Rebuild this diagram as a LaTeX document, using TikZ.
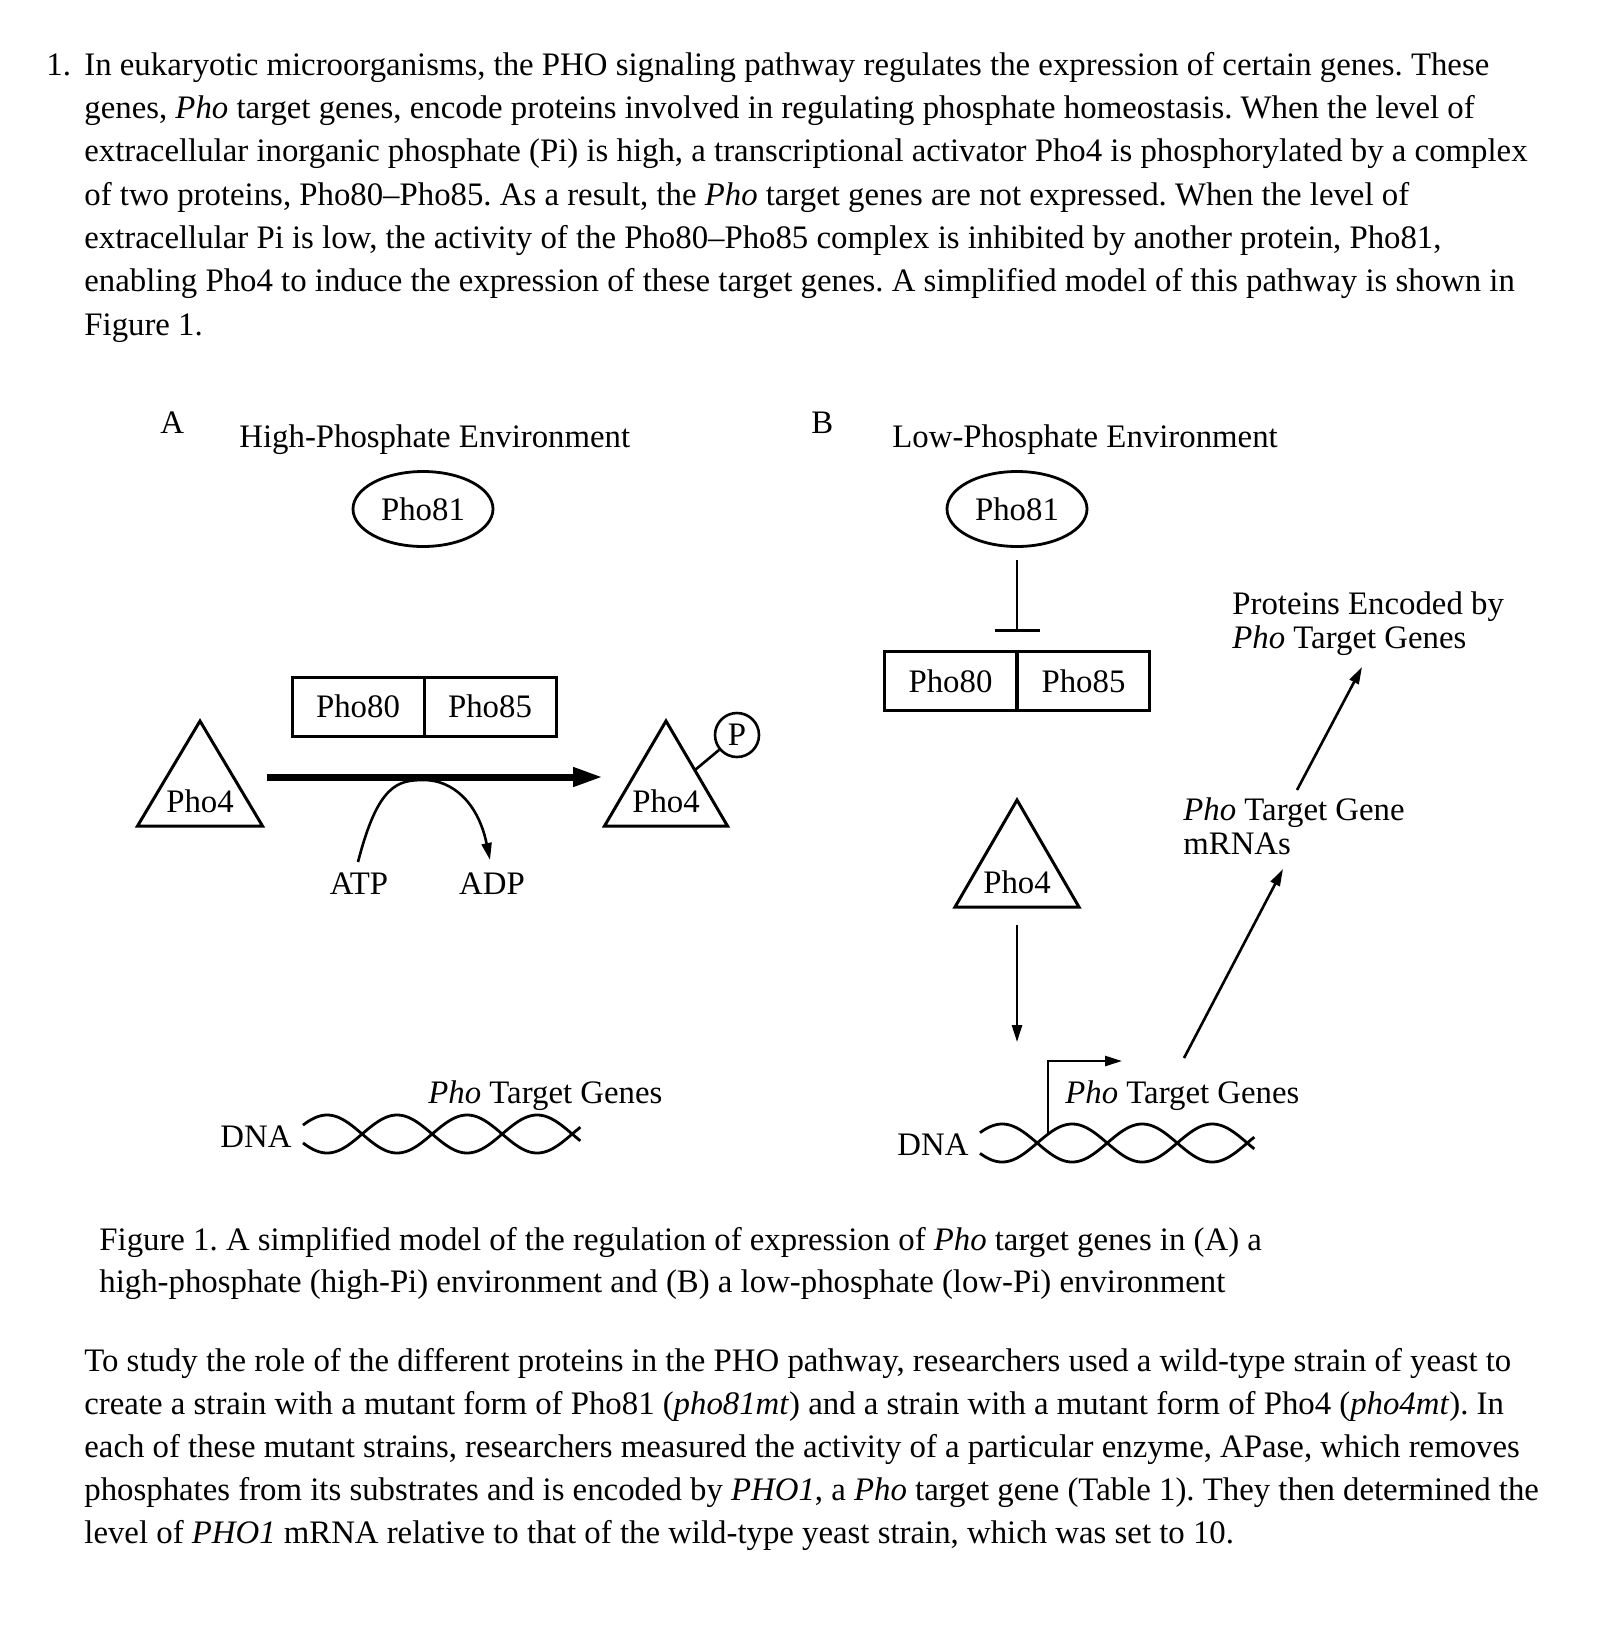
\documentclass[tikz,border=0pt]{standalone}
\usepackage{fontspec}
\setmainfont{Liberation Serif}
\usetikzlibrary{arrows.meta,shapes.geometric}
\newcommand{\figfont}{\fontsize{16.4pt}{19pt}\selectfont}
\frenchspacing
\begin{document}
\begin{tikzpicture}[x=0.5pt,y=-0.5pt,
  txt/.style={font=\figfont, inner sep=0pt, anchor=base west},
  lbl/.style={font=\figfont, inner sep=0pt, anchor=base},
  shp/.style={line width=1.5pt},
  cell/.style={draw, line width=1.5pt, minimum width=66pt, minimum height=29.5pt, inner sep=0pt, font=\figfont},
  oval/.style={draw, ellipse, line width=1.4pt, minimum width=70pt, minimum height=37.5pt, inner sep=0pt, font=\figfont},
  pcirc/.style={draw, circle, line width=1.3pt, minimum size=22pt, inner sep=0pt, font=\figfont},
  thinarrow/.style={line width=1.3pt, -{Triangle[length=8.5pt,width=5pt]}},
  thickarrow/.style={line width=3.5pt, -{Triangle[length=15pt,width=9pt]}},
  inhib/.style={line width=1.3pt, -{Bar[width=22.5pt,line width=1.3pt]}},
  dna/.style={line width=1.4pt}
]
\useasboundingbox (0,0) rectangle (1615,1638);

% ---------- paragraph 1 ----------
\node[txt] (num) at (46,75) {1.};
\node[txt] (p1l1) at (84,75) {In eukaryotic microorganisms, the PHO signaling pathway regulates the expression of certain genes. These};
\node[txt] (p1l2) at (84,118.5) {genes, \textit{Pho} target genes, encode proteins involved in regulating phosphate homeostasis. When the level of};
\node[txt] (p1l3) at (84,161.8) {extracellular inorganic phosphate (Pi) is high, a transcriptional activator Pho4 is phosphorylated by a complex};
\node[txt] (p1l4) at (84,205) {of two proteins, Pho80–Pho85. As a result, the \textit{Pho} target genes are not expressed. When the level of};
\node[txt] (p1l5) at (84,248.5) {extracellular Pi is low, the activity of the Pho80–Pho85 complex is inhibited by another protein, Pho81,};
\node[txt] (p1l6) at (84,291.8) {enabling Pho4 to induce the expression of these target genes. A simplified model of this pathway is shown in};
\node[txt] (p1l7) at (84,335) {Figure 1.};

% ---------- panel A ----------
\node[txt] (labA) at (160,433) {A};
\node[txt] (titA) at (239,447) {High-Phosphate Environment};
\node[oval] (o81a) at (423,509) {Pho81};
\node[cell] (a80) at (358,706.5) {Pho80};
\node[cell] (a85) at (490,706.5) {Pho85};
\draw[shp] (200,721) -- (262.5,826) -- (137.5,826) -- cycle;
\node[lbl] (p4a) at (200,812) {Pho4};
\draw[shp] (666,721) -- (727.5,826) -- (604.5,826) -- cycle;
\node[lbl] (p4ap) at (666,812) {Pho4};
\node[pcirc] (pc) at (737,735) {P};
\coordinate (pjoin) at (695,770);
\draw[line width=1.3pt] (pjoin) -- (pc);
\coordinate (thS) at (267,777);
\coordinate (thE) at (603,777);
\draw[thickarrow] (thS) -- (thE);
\node[lbl] (atp) at (359,894) {ATP};
\node[lbl] (adp) at (492,894) {ADP};
\coordinate (arcS) at (358,862);
\coordinate (arcT) at (424,780);
\coordinate (arcE) at (490,860);
\draw[thinarrow] (arcS) .. controls (378,784) and (398,780) .. (arcT) .. controls (452,780) and (478,802) .. (arcE);
\node[lbl] (dnaA) at (256,1147) {DNA};
\node[txt] (genA) at (428,1103) {\textit{Pho} Target Genes};
\draw[dna] plot[domain=28:741, samples=220, smooth] ({303+0.389*(\x-28)}, {1134-19*sin(\x)});
\draw[dna] plot[domain=28:741, samples=220, smooth] ({303+0.389*(\x-28)}, {1134+19*sin(\x)});

% ---------- panel B ----------
\node[txt] (labB) at (811,433) {B};
\node[txt] (titB) at (892,447) {Low-Phosphate Environment};
\node[oval] (o81b) at (1017,509) {Pho81};
\node[cell] (b80) at (950.5,681) {Pho80};
\node[cell] (b85) at (1083.5,681) {Pho85};
\draw[inhib, shorten <=6pt, shorten >=9pt] (o81b.south) -- (o81b.south |- b80.north);
\draw[shp] (1017,800) -- (1079,907) -- (955,907) -- cycle;
\node[lbl] (p4b) at (1017,893) {Pho4};
\coordinate (dnS) at (1017,925);
\coordinate (dnE) at (1017,1042);
\draw[thinarrow] (dnS) -- (dnE);
\node[lbl] (dnaB) at (933,1155) {DNA};
\node[txt] (genB) at (1065,1103) {\textit{Pho} Target Genes};
\draw[dna] plot[domain=33:738, samples=220, smooth] ({980+0.389*(\x-33)}, {1143-19*sin(\x)});
\draw[dna] plot[domain=33:738, samples=220, smooth] ({980+0.389*(\x-33)}, {1143+19*sin(\x)});
\coordinate (promS) at (1048,1134);
\coordinate (promE) at (1122,1061);
\draw[thinarrow] (promS) |- (promE);
\node[txt] (mr1) at (1183,820) {\textit{Pho} Target Gene};
\node[txt] (mr2) at (1183,854) {mRNAs};
\node[txt] (pr1) at (1232,614) {Proteins Encoded by};
\node[txt] (pr2) at (1232,648) {\textit{Pho} Target Genes};
\coordinate (g2mS) at (1184,1058);
\coordinate (g2mE) at (1283,869);
\draw[thinarrow] (g2mS) -- (g2mE);
\coordinate (m2pS) at (1297,790);
\coordinate (m2pE) at (1362,667);
\draw[thinarrow] (m2pS) -- (m2pE);

% ---------- caption ----------
\node[txt] (cap1) at (99,1250) {Figure 1. A simplified model of the regulation of expression of \textit{Pho} target genes in (A) a};
\node[txt] (cap2) at (99,1292.5) {high-phosphate (high-Pi) environment and (B) a low-phosphate (low-Pi) environment};

% ---------- paragraph 2 ----------
\node[txt] (p2l1) at (84,1371) {To study the role of the different proteins in the PHO pathway, researchers used a wild-type strain of yeast to};
\node[txt] (p2l2) at (84,1414) {create a strain with a mutant form of Pho81 (\textit{pho81mt}) and a strain with a mutant form of Pho4 (\textit{pho4mt}). In};
\node[txt] (p2l3) at (84,1457) {each of these mutant strains, researchers measured the activity of a particular enzyme, APase, which removes};
\node[txt] (p2l4) at (84,1500) {phosphates from its substrates and is encoded by \textit{PHO1}, a \textit{Pho} target gene (Table 1). They then determined the};
\node[txt] (p2l5) at (84,1543) {level of \textit{PHO1} mRNA relative to that of the wild-type yeast strain, which was set to 10.};
\end{tikzpicture}
\end{document}
